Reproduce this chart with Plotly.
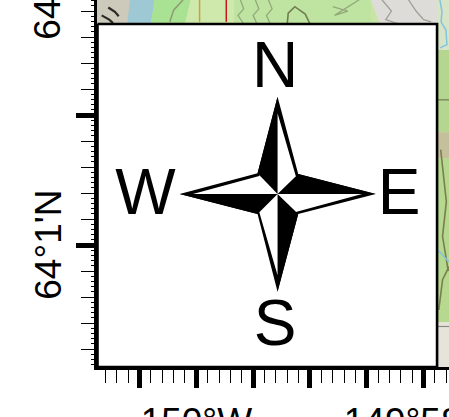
import plotly.graph_objects as go

# Longitude: arc-seconds east of 150 W. Latitude: arc-seconds north of 64 1' N.
lon_range = [-52.46, 133.4]
lat_range = [-28.15, 56.54]

lon_major = [-30, 0, 30, 60, 90, 120]
lon_labels = ["", "150°W", "", "", "", "149°58'W"]
lat_major = [0, 30]
lat_text = ["64°1'N", "64°2'N"]
lat_text_pos = [0.3324, 1.041]

# Inset panel
panel_lon = [-52.2, 127.1, 127.1, -52.2, -52.2]
panel_lat = [51.0, 51.0, -28.15, -28.15, 51.0]

# Compass star
star_lon = [42.87, 53.78, 94.74, 53.78, 42.87, 32.32, -8.8, 32.32, 42.87]
star_lat = [34.22, 16.39, 11.77, 7.15, -10.78, 7.15, 11.77, 16.55, 34.22]
star_in_lon = [42.87, 52.5, 87.5, 52.5, 42.87, 33.2, -1.8, 33.2, 42.87]
star_in_lat = [30.4, 15.9, 11.77, 7.6, -7.0, 7.6, 11.77, 15.9, 30.4]
dark_n_lon = [42.87, 42.87, 32.32, 42.87]
dark_n_lat = [11.77, 34.22, 16.55, 11.77]
dark_e_lon = [42.87, 94.74, 53.78, 42.87]
dark_e_lat = [11.77, 11.77, 16.39, 11.77]
dark_s_lon = [42.87, 42.87, 53.78, 42.87]
dark_s_lat = [11.77, -10.78, 7.15, 11.77]
dark_w_lon = [42.87, -8.8, 32.32, 42.87]
dark_w_lat = [11.77, 11.77, 7.15, 11.77]

letters = ["N", "E", "S", "W"]
letter_lon = [41.6, 107.1, 41.6, -26.9]
letter_lat = [40.25, 10.9, -19.4, 10.9]

# Map patches: (lon, lat, colour)
map_patches = [
    ([-52.5, -34, -36.5, -52.5], [56.6, 56.6, 51, 51], "#cdc9bb"),
    ([-35, -22, -24, -36.5], [56.6, 56.6, 51, 51], "#9dc8d4"),
    ([-22, -3, -6, -24], [56.6, 56.6, 51, 51], "#a9e292"),
    ([-3, 20, 20, -6], [56.6, 56.6, 51, 51], "#cfe8ac"),
    ([20, 92, 92, 20], [56.6, 56.6, 51, 51], "#bfe4a2"),
    ([92, 127, 127, 97], [56.6, 56.6, 51, 51], "#dedcd8"),
    ([127, 133.5, 133.5, 127], [56.6, 56.6, 45, 45], "#d8e4c8"),
    ([127, 133.5, 133.5, 127], [45, 45, 26, 26], "#b4d68f"),
    ([127, 133.5, 133.5, 127], [26, 26, 20, 20], "#c6bf9b"),
    ([127, 133.5, 133.5, 127], [20, 20, -17.8, -17.8], "#b7d98f"),
    ([127, 133.5, 133.5, 127], [-17.8, -17.8, -28.2, -28.2], "#e5e3da"),
]

# Map line work: (lon, lat, colour, width)
map_lines = [
    ([1.7, 1.7], [56.6, 51.5], "#c9a23f", 1.5),
    ([15.8, 15.8], [56.6, 51.5], "#c8151b", 1.5),
    ([23.2, 25, 22, 25], [56.6, 54.5, 53, 51], "#93a97a", 1.3),
    ([31.1, 33, 30, 32], [56.6, 54.5, 53, 51], "#93a97a", 1.3),
    ([38, 40, 37, 39], [56.6, 54.5, 53, 51], "#93a97a", 1.3),
    ([48, 48.5, 52, 57.5, 60], [51, 53.5, 55, 53.3, 51], "#6f7d4f", 1.6),
    ([-7, -12, -14], [56.6, 54.2, 51.5], "#8f9a72", 1.5),
    ([72, 80, 73, 86], [55, 54, 53, 56.6], "#93a97a", 1.3),
    ([98, 103, 100, 107], [56.6, 54, 52, 51], "#a09f95", 1.3),
    ([112, 116, 120, 124], [56.6, 54, 52, 51.5], "#a09f95", 1.3),
    ([-46.5, -43, -41], [54.8, 53.8, 52.8], "#2b2a25", 2.2),
    ([-50, -46, -44], [53, 52, 51.2], "#2b2a25", 2.2),
    ([127.2, 133.4], [33.5, 33.5], "#6f7d4f", 1.2),
    ([127.2, 133.4], [-18.8, -18.8], "#8b8a80", 1.2),
    ([129, 132, 130, 133], [22, 10, 2, -6], "#7a7f4d", 1.6),
    ([128, 130, 133.4], [-15, -8, -5], "#7a7f4d", 1.6),
    ([128.6, 129.7, 129.2, 131.8, 132.3, 128.6], [56.5, 53.8, 51.5, 49.6, 46.2, 45.5], "#82c6dd", 1.5),
    ([127.6, 133.4], [-1.2, -3.9], "#82c6dd", 1.5),
]

fig = go.Figure()

for lon, lat, colour in map_patches:
    fig.add_trace(go.Scatter(x=lon, y=lat, mode="lines", fill="toself", fillcolor=colour,
                             line=dict(width=0), hoverinfo="skip"))
for lon, lat, colour, width in map_lines:
    fig.add_trace(go.Scatter(x=lon, y=lat, mode="lines", line=dict(color=colour, width=width),
                             hoverinfo="skip"))

fig.add_trace(go.Scatter(x=panel_lon, y=panel_lat, mode="lines", fill="toself", fillcolor="white",
                         line=dict(color="black", width=2.6), hoverinfo="skip"))

fig.add_trace(go.Scatter(x=star_lon, y=star_lat, mode="lines", fill="toself", fillcolor="black",
                         line=dict(width=0), hoverinfo="skip"))
fig.add_trace(go.Scatter(x=star_in_lon, y=star_in_lat, mode="lines", fill="toself", fillcolor="white",
                         line=dict(width=0), hoverinfo="skip"))
for lon, lat in [(dark_n_lon, dark_n_lat), (dark_e_lon, dark_e_lat),
                 (dark_s_lon, dark_s_lat), (dark_w_lon, dark_w_lat)]:
    fig.add_trace(go.Scatter(x=lon, y=lat, mode="lines", fill="toself", fillcolor="black",
                             line=dict(width=0), hoverinfo="skip"))

fig.add_trace(go.Scatter(x=letter_lon, y=letter_lat, mode="text", text=letters,
                         textposition="middle center",
                         textfont=dict(family="Liberation Sans", size=64, color="black"),
                         hoverinfo="skip"))
fig.add_trace(go.Scatter(x=[0], y=[0], yaxis="y2", mode="markers", marker=dict(opacity=0),
                         hoverinfo="skip"))

fig.update_layout(
    width=449, height=417, autosize=False, showlegend=False,
    margin=dict(l=96.5, r=0, t=0, b=50, pad=0, autoexpand=False),
    paper_bgcolor="white", plot_bgcolor="#c8e4a6",
    font=dict(family="Liberation Sans", size=37, color="black"),
    xaxis=dict(range=lon_range, tickmode="array", tickvals=lon_major, ticktext=lon_labels,
               ticks="outside", ticklen=18, tickwidth=4.5, tickcolor="black",
               minor=dict(dtick=6, tick0=0, ticks="outside", ticklen=13, tickwidth=1.2, tickcolor="black"),
               showline=True, linecolor="black", linewidth=2.6, showgrid=False, zeroline=False,
               tickangle=0, ticklabeloverflow="allow", ticklabelstandoff=2),
    yaxis=dict(range=lat_range, tickmode="array", tickvals=lat_major, showticklabels=False,
               ticks="outside", ticklen=18, tickwidth=4.5, tickcolor="black",
               minor=dict(dtick=6, tick0=0, ticks="outside", ticklen=13, tickwidth=1.2, tickcolor="black"),
               showline=True, linecolor="black", linewidth=2.6, showgrid=False, zeroline=False),
    yaxis2=dict(range=lat_range, overlaying="y", side="left", tickmode="linear", tick0=0, dtick=1.2,
                ticks="outside", ticklen=5, tickwidth=1.2, tickcolor="black", showticklabels=False,
                showgrid=False, zeroline=False, showline=False),
    annotations=[dict(text=t, textangle=-90, xref="paper", yref="paper",
                      x=-0.14, y=p, showarrow=False, xanchor="center", yanchor="middle",
                      font=dict(family="Liberation Sans", size=37, color="black"))
                 for t, p in zip(lat_text, lat_text_pos)],
)

fig.write_html("out.html", config={"displayModeBar": False},
               post_script="document.body.style.margin='0';document.documentElement.style.overflow='hidden';")
